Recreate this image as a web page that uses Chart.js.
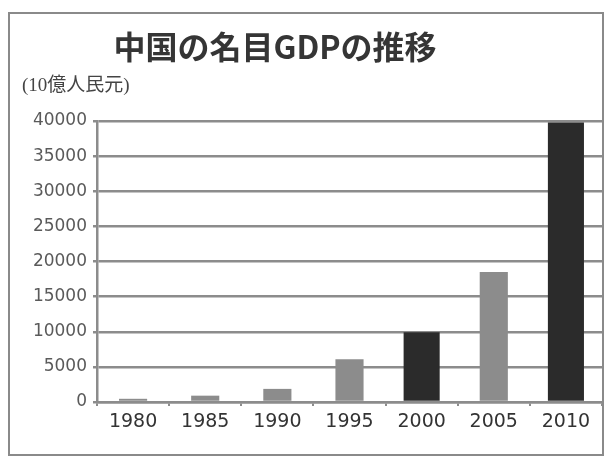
<!DOCTYPE html>
<html>
<head>
<meta charset="utf-8">
<script src="https://cdn.jsdelivr.net/npm/chart.js@4"></script>
<style>
  html, body { margin: 0; padding: 0; background: #fff; }
  #wrap { width: 606px; height: 464px; }
</style>
</head>
<body>
<div id="wrap"><canvas id="gdpChart" width="606" height="464"></canvas></div>
<script>
const chartTitle = '中国の名目GDPの推移';
const unitLabel = '(10億人民元)';
const years = ['1980', '1985', '1990', '1995', '2000', '2005', '2010'];
const gdp = [455, 902, 1867, 6079, 9921, 18494, 39798];
const darkYears = ['2000', '2010'];
const yMax = 40000;
const yStep = 5000;

// grey and black bars sit in the same slot, so split the series
const greySeries = gdp.map((v, i) => darkYears.includes(years[i]) ? null : v);
const darkSeries = gdp.map((v, i) => darkYears.includes(years[i]) ? v : null);

const lineGrey = '#8c8c8c';

// outer frame, big title and the unit note above the axis
const headings = {
  id: 'headings',
  beforeDraw(chart) {
    const ctx = chart.ctx;
    ctx.save();
    ctx.fillStyle = '#fff';
    ctx.fillRect(0, 0, chart.width, chart.height);
    ctx.strokeStyle = '#8a8a8a';
    ctx.lineWidth = 2;
    ctx.strokeRect(9, 13, 594, 442);
    ctx.fillStyle = '#353535';
    ctx.font = 'bold 32px "Noto Sans CJK JP"';
    ctx.textAlign = 'center';
    ctx.textBaseline = 'middle';
    ctx.fillText(chartTitle, 275, 47);
    ctx.fillStyle = '#444';
    ctx.font = '19px "Liberation Serif", "Noto Sans CJK JP"';
    ctx.textAlign = 'left';
    ctx.fillText(unitLabel, 22, 86);
    ctx.restore();
  }
};

new Chart(document.getElementById('gdpChart'), {
  type: 'bar',
  data: {
    labels: years,
    datasets: [
      {
        data: greySeries,
        backgroundColor: '#8c8c8c',
        barPercentage: 0.39,
        categoryPercentage: 1,
        grouped: false
      },
      {
        data: darkSeries,
        backgroundColor: '#2b2b2b',
        barPercentage: 0.5,
        categoryPercentage: 1,
        grouped: false
      }
    ]
  },
  options: {
    responsive: false,
    animation: false,
    layout: { padding: { top: 121, left: 20, right: 4, bottom: 10 } },
    plugins: {
      legend: { display: false },
      tooltip: { enabled: false }
    },
    scales: {
      x: {
        ticks: { color: '#333', font: { family: "'DejaVu Sans'", size: 19 }, padding: 5 },
        grid: { drawOnChartArea: false, tickLength: 4, color: lineGrey, lineWidth: 2 },
        border: { color: lineGrey, width: 2.5 },
        afterFit: s => { s.height = 52; }
      },
      y: {
        min: 0,
        max: yMax,
        ticks: {
          stepSize: yStep,
          color: '#5a5a5a',
          font: { family: "'DejaVu Sans'", size: 17 },
          padding: 6,
          callback: v => String(v)   // plain numbers, no thousands separator
        },
        grid: { color: lineGrey, lineWidth: 2.5, tickLength: 4 },
        border: { color: lineGrey, width: 2.5 },
        afterFit: s => { s.width = 77; }
      }
    }
  },
  plugins: [headings]
});
</script>
</body>
</html>
